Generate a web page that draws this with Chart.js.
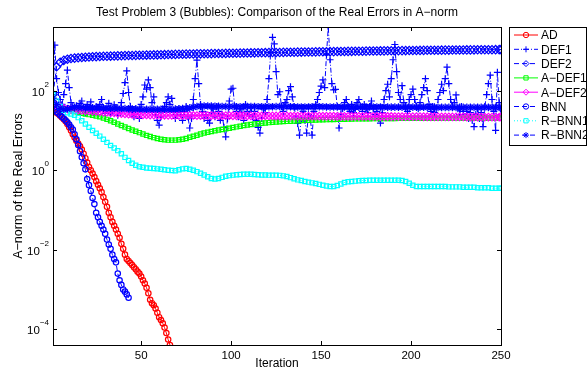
<!DOCTYPE html>
<html lang="en">
<head>
<meta charset="UTF-8">
<title>Test Problem 3 (Bubbles)</title>
<script src="https://cdn.jsdelivr.net/npm/chart.js@4.4.1/dist/chart.umd.min.js"></script>
<style>
    html, body { margin: 0; padding: 0; background: #fff; }
    #wrap { width: 587px; height: 375px; }
</style>
</head>
<body>
<div id="wrap"><canvas id="errChart" width="587" height="375"></canvas></div>
<script>
// iterations: every step for DEF1, every other step for the slow curves
const iterAll = Array.from({ length: 250 }, (_, i) => i + 1);
const iterOdd = [];
for (let i = 1; i <= 249; i += 2) iterOdd.push(i);
iterOdd.push(250);

const xTicks = [50, 100, 150, 200, 250];
const yTicks = [1e-4, 1e-2, 1, 1e2];
const yTickExp = ['\u22124', '\u22122', '0', '2'];

// AD, iterations 1..66
const adErr = [45, 33, 28, 26, 23.5, 21, 19, 17, 14.5, 12,
    10, 8, 6.6, 5.5, 4.7, 4.0, 3.3, 2.6, 2.0, 1.55,
    1.2, 1.0, 0.82, 0.67, 0.53, 0.43, 0.35, 0.28, 0.21, 0.16,
    0.12, 0.085, 0.065, 0.05, 0.04, 0.032, 0.025, 0.02, 0.014, 0.0105,
    0.0075, 0.0058, 0.0052, 0.0046, 0.0041, 0.0036, 0.0032, 0.0028, 0.0025, 0.0021,
    0.0017, 0.0014, 0.0011, 0.0008, 0.00055, 0.00045, 0.0004, 0.00033, 0.00026, 0.0002,
    0.00017, 0.00014, 0.00011, 0.00008, 0.000055, 0.00004];

// BNN, iterations 1..43
const bnnErr = [45, 33, 29, 27, 24, 22, 20, 18, 16, 14,
    12, 10.5, 8, 6, 4.3, 3, 2.1, 1.5, 1.05, 0.6,
    0.42, 0.3, 0.2, 0.14, 0.085, 0.065, 0.05, 0.04, 0.032, 0.025,
    0.018, 0.0135, 0.0105, 0.0075, 0.0058, 0.0048, 0.0025, 0.0017, 0.0013, 0.001,
    0.00088, 0.00075, 0.00062];

// DEF1, iterations 1..250
const def1Err = [80, 1400, 200, 90, 60, 45, 80, 150, 330, 120,
    50, 40, 35, 42, 30, 48, 55, 38, 28, 45,
    36, 52, 30, 25, 40, 33, 45, 60, 38, 27,
    35, 48, 26, 30, 44, 38, 24, 32, 50, 85,
    160, 316, 90, 40, 28, 22, 35, 30, 20, 45,
    70, 139, 110, 186, 120, 50, 70, 25, 18, 13.6,
    22, 35, 40, 50, 70, 45, 64, 30, 20, 28,
    35, 25, 18, 30, 40, 22, 11.5, 20, 60, 200,
    590, 150, 45, 30, 20, 25, 18, 15.3, 28, 35,
    22, 40, 30, 18, 25, 12, 6.9, 20, 55, 110,
    115, 40, 30, 22, 35, 28, 18, 45, 30, 25,
    38, 22, 30, 18, 12, 8.6, 20, 35, 28, 60,
    200, 900, 2200, 1500, 300, 80, 94, 40, 30, 50,
    60, 100, 126, 70, 40, 22, 15, 7.6, 20, 30,
    18, 8.6, 25, 20, 7.6, 30, 45, 60, 90, 130,
    186, 120, 800, 4000, 600, 150, 105, 108, 40, 11.5,
    25, 35, 50, 60, 40, 30, 45, 28, 35, 50,
    60, 40, 30, 45, 35, 28, 40, 55, 35, 25,
    30, 20, 15.3, 28, 60, 100, 145, 70, 200, 600,
    1450, 300, 90, 60, 134, 50, 40, 30, 60, 80,
    110, 60, 40, 35, 50, 80, 120, 200, 100, 45,
    30, 40, 28, 35, 60, 90, 145, 100, 200, 390,
    150, 60, 40, 50, 78, 35, 25, 40, 30, 22,
    30, 20, 28, 18, 12.4, 25, 35, 20, 28, 12.4,
    40, 80, 150, 245, 60, 30, 10, 290, 50, 25];

// the rest are on iterOdd
const def2Err = [80, 400, 520, 580, 620, 645, 660, 675, 685, 695,
    705, 712, 720, 726, 732, 738, 742, 747, 752, 757,
    762, 766, 770, 774, 778, 782, 786, 790, 794, 798,
    802, 806, 810, 814, 818, 822, 826, 830, 834, 838,
    842, 845, 848, 852, 855, 858, 862, 865, 868, 872,
    875, 878, 882, 885, 888, 892, 895, 898, 901, 905,
    908, 911, 914, 917, 920, 923, 926, 929, 932, 935,
    938, 941, 944, 947, 950, 953, 956, 959, 962, 965,
    968, 971, 974, 977, 980, 983, 986, 989, 992, 995,
    998, 1001, 1004, 1007, 1010, 1012, 1015, 1018, 1020, 1023,
    1026, 1028, 1031, 1033, 1036, 1038, 1041, 1043, 1046, 1048,
    1050, 1052, 1055, 1057, 1059, 1061, 1063, 1065, 1067, 1069,
    1071, 1073, 1075, 1077, 1079, 1080];

const adef1Err = [50, 42, 38, 35, 33, 31, 30, 28.5, 27, 26,
    25, 24, 23, 22, 20.5, 19, 17.5, 16, 14.5, 13.3,
    12.2, 11.2, 10.3, 9.5, 8.8, 8.1, 7.5, 7.0, 6.6, 6.3,
    6.0, 5.8, 5.7, 5.7, 5.7, 5.8, 6.0, 6.3, 6.7, 7.1,
    7.6, 8.1, 8.6, 9.0, 9.4, 9.8, 10.2, 10.6, 11.0, 11.4,
    11.8, 12.3, 12.8, 13.3, 13.7, 14.1, 14.5, 14.8, 15.1, 15.4,
    15.7, 16.0, 16.3, 16.5, 16.7, 16.9, 17.1, 17.3, 17.5, 17.7,
    17.9, 18.0, 18.2, 18.3, 18.5, 18.6, 18.7, 18.8, 18.9, 19.0,
    19.1, 19.2, 19.3, 19.4, 19.5, 19.5, 19.6, 19.7, 19.7, 19.8,
    19.8, 19.9, 19.9, 20.0, 20.0, 20.0, 20.1, 20.1, 20.1, 20.2,
    20.2, 20.2, 20.2, 20.3, 20.3, 20.3, 20.3, 20.3, 20.4, 20.4,
    20.4, 20.4, 20.4, 20.4, 20.5, 20.5, 20.5, 20.5, 20.5, 20.5,
    20.5, 20.5, 20.6, 20.6, 20.6, 20.6];

const adef2Err = [50, 42, 38, 36, 34.5, 33.5, 33, 32.5, 32, 31.5,
    31, 30.5, 30, 29.5, 29, 28.5, 28, 27.5, 27, 26.5,
    26, 25.6, 25.3, 25, 24.8, 24.6, 24.5, 24.4, 24.3, 24.2,
    24.1, 24.1, 24, 24, 24, 23.9, 23.9, 23.9, 23.8, 23.8,
    23.7, 23.7, 23.7, 23.6, 23.6, 23.6, 23.5, 23.5, 23.5, 23.5,
    23.4, 23.4, 23.4, 23.4, 23.3, 23.3, 23.3, 23.3, 23.2, 23.2,
    23.2, 23.2, 23.1, 23.1, 23.1, 23.1, 23, 23, 23, 23,
    23, 22.9, 22.9, 22.9, 22.9, 22.8, 22.8, 22.8, 22.8, 22.7,
    22.7, 22.7, 22.7, 22.6, 22.6, 22.6, 22.6, 22.5, 22.5, 22.5,
    22.5, 22.4, 22.4, 22.4, 22.4, 22.3, 22.3, 22.3, 22.3, 22.2,
    22.2, 22.2, 22.2, 22.1, 22.1, 22.1, 22.1, 22, 22, 22,
    22, 21.9, 21.9, 21.9, 21.9, 21.8, 21.8, 21.8, 21.8, 21.7,
    21.7, 21.7, 21.7, 21.6, 21.6, 21.6];

const rbnn1Err = [80, 55, 40, 32, 28, 26, 24, 21, 17.5, 14.5,
    12, 10, 8.5, 7.2, 6.0, 5.0, 4.2, 3.6, 3.1, 2.6,
    2.1, 1.75, 1.5, 1.33, 1.22, 1.18, 1.14, 1.12, 1.1, 1.08,
    1.06, 1.03, 1.0, 0.98, 0.97, 1.02, 1.08, 1.1, 1.06, 1.0,
    0.92, 0.84, 0.76, 0.68, 0.62, 0.6, 0.62, 0.66, 0.7, 0.73,
    0.75, 0.77, 0.78, 0.79, 0.79, 0.79, 0.78, 0.77, 0.76, 0.76,
    0.75, 0.75, 0.75, 0.74, 0.72, 0.69, 0.65, 0.61, 0.57, 0.55,
    0.52, 0.5, 0.48, 0.46, 0.44, 0.42, 0.4, 0.39, 0.39, 0.41,
    0.45, 0.49, 0.51, 0.52, 0.53, 0.54, 0.55, 0.55, 0.56, 0.56,
    0.56, 0.56, 0.56, 0.56, 0.56, 0.56, 0.56, 0.55, 0.52, 0.47,
    0.42, 0.39, 0.39, 0.39, 0.39, 0.39, 0.39, 0.39, 0.39, 0.39,
    0.38, 0.38, 0.38, 0.38, 0.37, 0.37, 0.37, 0.37, 0.36, 0.36,
    0.36, 0.36, 0.35, 0.35, 0.35, 0.35];

const rbnn2Err = [65, 45, 36, 34, 35, 37, 38, 38, 38, 37,
    37, 37, 37, 37, 36.5, 36.5, 36, 36, 36, 35.5,
    35.5, 35, 35, 34.5, 34.5, 34, 34, 34, 34, 34,
    34, 34, 34, 34, 34.5, 35, 35.5, 36, 37, 38.5,
    40, 40.5, 41, 41, 41, 40.5, 40.5, 40, 40, 40,
    40, 39.5, 39.5, 39.5, 40, 40, 40, 39.5, 39.5, 39.5,
    39.5, 39.5, 40, 40, 40, 39.5, 39.5, 39, 39, 39,
    39, 39, 39.5, 39.5, 39.5, 39.5, 39, 39, 39, 39,
    39, 39, 39, 38.5, 38.5, 38.5, 38.5, 39, 39, 39,
    39, 39, 39, 38.5, 38.5, 38.5, 38.5, 38.5, 38.5, 38.5,
    38.5, 38.5, 38.5, 38.5, 38.5, 38.5, 38.5, 38, 38, 38,
    38, 38, 38, 38, 38, 38, 38, 38, 38, 38,
    38, 38, 38, 38, 38, 38];

const FONT = '"Liberation Sans", Arial, Helvetica, sans-serif';
const NONE = 'rgba(0,0,0,0)';

function series(label, xs, ys, color, dash, marker, radius) {
    return {
        label,
        data: ys.map((v, i) => ({ x: xs[i], y: v })),
        borderColor: color,
        borderWidth: 1,
        borderDash: dash,
        tension: 0,
        pointStyle: marker,
        pointRadius: radius,
        pointBorderColor: color,
        pointBackgroundColor: NONE,
        pointBorderWidth: 1.2
    };
}

const datasets = [
    series('AD', iterAll.slice(0, adErr.length), adErr, '#ff0000', [], 'circle', 2.7),
    series('DEF1', iterAll, def1Err, '#0000ff', [5, 2, 1, 2], 'cross', 3.5),
    series('DEF2', iterOdd, def2Err, '#0000ff', [5, 3], 'rectRot', 4.2),
    series('A\u2212DEF1', iterOdd, adef1Err, '#00ff00', [], 'rect', 3),
    series('A\u2212DEF2', iterOdd, adef2Err, '#ff00ff', [], 'rectRot', 3.8),
    series('BNN', iterAll.slice(0, bnnErr.length), bnnErr, '#0000ff', [5, 3], 'circle', 2.7),
    series('R\u2212BNN1', iterOdd, rbnn1Err, '#00ffff', [1, 2], 'rect', 3),
    series('R\u2212BNN2', iterOdd, rbnn2Err, '#0000ff', [5, 3], 'star', 3.8)
];
// later series on top
datasets.forEach((d, i) => { d.order = datasets.length - i; });

// axes box, inward ticks, labels, title and legend
const axesFrame = {
    id: 'axesFrame',
    afterDraw(chart) {
        const { ctx, chartArea: a, scales: { x, y } } = chart;
        ctx.save();
        ctx.strokeStyle = '#000';
        ctx.lineWidth = 1;
        ctx.setLineDash([]);
        ctx.strokeRect(a.left + 0.5, a.top + 0.5, a.right - a.left, a.bottom - a.top);

        ctx.beginPath();
        xTicks.forEach(t => {
            const px = Math.round(x.getPixelForValue(t)) + 0.5;
            ctx.moveTo(px, a.bottom); ctx.lineTo(px, a.bottom - 4);
            ctx.moveTo(px, a.top); ctx.lineTo(px, a.top + 4);
        });
        yTicks.forEach(t => {
            const py = Math.round(y.getPixelForValue(t)) + 0.5;
            ctx.moveTo(a.left, py); ctx.lineTo(a.left + 4, py);
            ctx.moveTo(a.right, py); ctx.lineTo(a.right - 4, py);
        });
        ctx.stroke();

        ctx.fillStyle = '#000';
        ctx.font = '11.5px ' + FONT;
        ctx.textAlign = 'center';
        ctx.textBaseline = 'top';
        xTicks.forEach(t => ctx.fillText(String(t), x.getPixelForValue(t), a.bottom + 5));

        // 10^k labels
        ctx.textBaseline = 'middle';
        yTicks.forEach((t, i) => {
            const py = y.getPixelForValue(t);
            ctx.font = '8px ' + FONT;
            const ew = ctx.measureText(yTickExp[i]).width;
            ctx.textAlign = 'left';
            ctx.fillText(yTickExp[i], a.left - 4 - ew, py - 6);
            ctx.font = '11.5px ' + FONT;
            ctx.textAlign = 'right';
            ctx.fillText('10', a.left - 4 - ew, py + 2);
        });

        ctx.font = '12px ' + FONT;
        ctx.textAlign = 'center';
        ctx.fillText('Test Problem 3 (Bubbles): Comparison of the Real Errors in A\u2212norm',
            (a.left + a.right) / 2, 13);
        ctx.fillText('Iteration', (a.left + a.right) / 2, 364);
        ctx.save();
        ctx.translate(19, (a.top + a.bottom) / 2);
        ctx.rotate(-Math.PI / 2);
        ctx.font = '12.5px ' + FONT;
        ctx.fillText('A\u2212norm of the Real Errors', 0, 0);
        ctx.restore();

        // legend box
        const lx = 509.5, ly = 27.5, lw = 77, lh = 118;
        ctx.fillStyle = '#fff';
        ctx.fillRect(lx, ly, lw, lh);
        ctx.strokeRect(lx, ly, lw, lh);
        ctx.font = '12px ' + FONT;
        chart.data.datasets.forEach((d, i) => {
            const cy = 35 + i * 14.3;
            ctx.save();
            ctx.strokeStyle = d.borderColor;
            ctx.lineWidth = 1;
            ctx.setLineDash(d.borderDash);
            ctx.beginPath();
            ctx.moveTo(514, cy); ctx.lineTo(538, cy);
            ctx.stroke();
            ctx.setLineDash([]);
            ctx.fillStyle = NONE;
            Chart.helpers.drawPoint(ctx, {
                pointStyle: d.pointStyle, radius: Math.min(d.pointRadius, 3), rotation: 0, borderWidth: 1
            }, 526, cy);
            ctx.restore();
            ctx.fillStyle = '#000';
            ctx.textAlign = 'left';
            ctx.fillText(d.label, 541, cy + 1);
        });
        ctx.restore();
    }
};

new Chart(document.getElementById('errChart'), {
    type: 'line',
    data: { datasets },
    options: {
        responsive: false,
        animation: false,
        events: [],
        layout: { padding: { left: 53, right: 86, top: 27, bottom: 30 } },
        scales: {
            x: { type: 'linear', min: 1, max: 250, display: false },
            y: { type: 'logarithmic', min: 4e-5, max: 4000, display: false }
        },
        plugins: {
            legend: { display: false },
            title: { display: false },
            tooltip: { enabled: false }
        }
    },
    plugins: [axesFrame]
});
</script>
</body>
</html>
